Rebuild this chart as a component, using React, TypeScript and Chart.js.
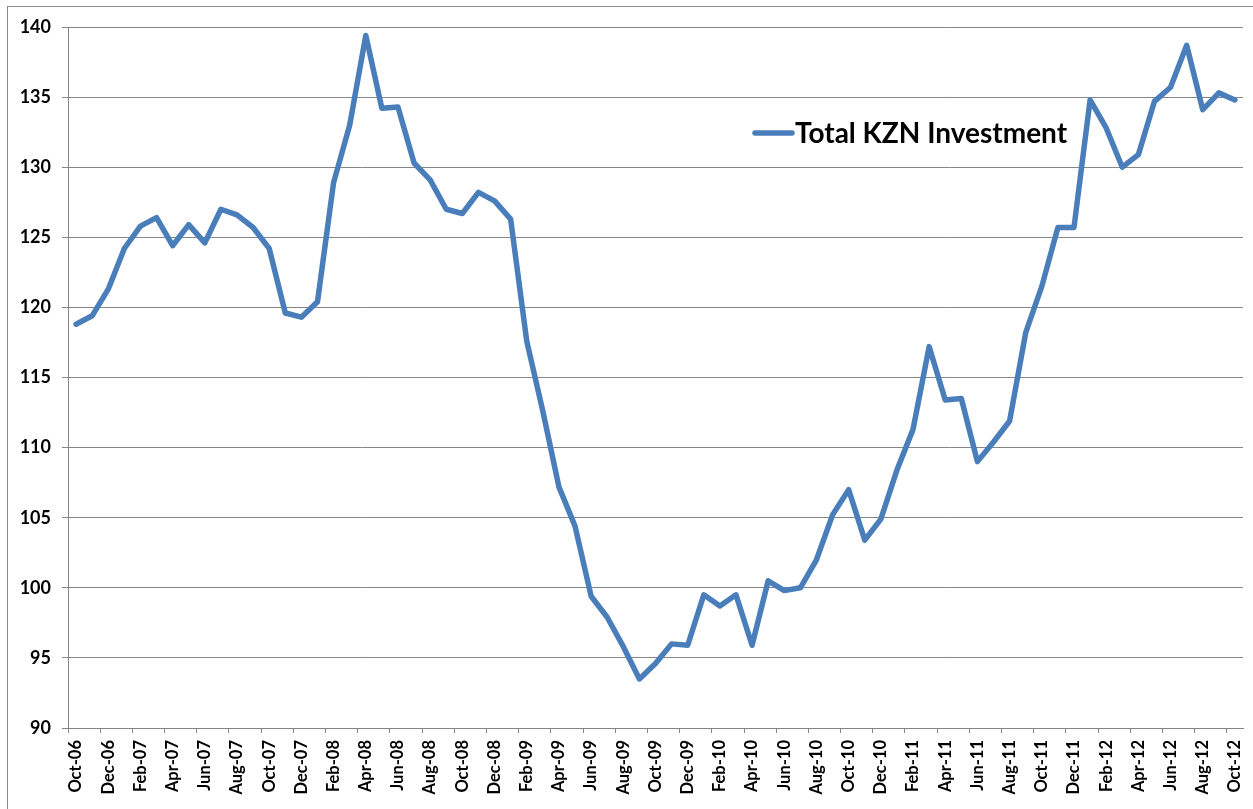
import React, { useEffect, useRef } from "react";
import { Chart, registerables } from "chart.js";

Chart.register(...registerables);

const categories: string[] = [
  "Oct-06", "Nov-06", "Dec-06",
  "Jan-07", "Feb-07", "Mar-07", "Apr-07", "May-07", "Jun-07", "Jul-07", "Aug-07", "Sep-07", "Oct-07", "Nov-07", "Dec-07",
  "Jan-08", "Feb-08", "Mar-08", "Apr-08", "May-08", "Jun-08", "Jul-08", "Aug-08", "Sep-08", "Oct-08", "Nov-08", "Dec-08",
  "Jan-09", "Feb-09", "Mar-09", "Apr-09", "May-09", "Jun-09", "Jul-09", "Aug-09", "Sep-09", "Oct-09", "Nov-09", "Dec-09",
  "Jan-10", "Feb-10", "Mar-10", "Apr-10", "May-10", "Jun-10", "Jul-10", "Aug-10", "Sep-10", "Oct-10", "Nov-10", "Dec-10",
  "Jan-11", "Feb-11", "Mar-11", "Apr-11", "May-11", "Jun-11", "Jul-11", "Aug-11", "Sep-11", "Oct-11", "Nov-11", "Dec-11",
  "Jan-12", "Feb-12", "Mar-12", "Apr-12", "May-12", "Jun-12", "Jul-12", "Aug-12", "Sep-12", "Oct-12",
];

const seriesLabel = "Total KZN Investment";

const investment: number[] = [
  118.8, 119.4, 121.3,
  124.2, 125.8, 126.4, 124.4, 125.9, 124.6, 127.0, 126.6, 125.7, 124.2, 119.6, 119.3,
  120.4, 128.9, 133.0, 139.4, 134.2, 134.3, 130.3, 129.1, 127.0, 126.7, 128.2, 127.6,
  126.3, 117.6, 112.6, 107.2, 104.4, 99.4, 97.9, 95.8, 93.5, 94.6, 96.0, 95.9,
  99.5, 98.7, 99.5, 95.9, 100.5, 99.8, 100.0, 102.0, 105.2, 107.0, 103.4, 104.9,
  108.4, 111.3, 117.2, 113.4, 113.5, 109.0, 110.4, 111.9, 118.2, 121.5, 125.7, 125.7,
  134.8, 132.8, 130.0, 130.9, 134.7, 135.7, 138.7, 134.1, 135.3, 134.8,
];

const yMin = 90;
const yMax = 140;
const yStep = 5;

const LINE_COLOR = "#4a7ebb";
const GRID_COLOR = "#868686";
const FONT = "Lato, 'Open Sans', sans-serif";

const legendPlugin = {
  id: "insideLegend",
  afterDraw(chart: any) {
    const ctx = chart.ctx;
    const ds = chart.data.datasets[0];
    const x0 = 755;
    const y0 = 133;
    ctx.save();
    ctx.strokeStyle = ds.borderColor;
    ctx.lineWidth = 5.5;
    ctx.lineCap = "round";
    ctx.beginPath();
    ctx.moveTo(x0, y0);
    ctx.lineTo(x0 + 37, y0);
    ctx.stroke();
    ctx.fillStyle = "#000";
    ctx.font = `bold 28px ${FONT}`;
    ctx.textBaseline = "middle";
    ctx.textAlign = "left";
    ctx.fillText(ds.label, x0 + 40, y0 + 1);
    ctx.restore();
  },
};

export default function App() {
  const canvasRef = useRef<HTMLCanvasElement | null>(null);

  useEffect(() => {
    if (!canvasRef.current) return;
    const chart = new Chart(canvasRef.current, {
      type: "line",
      data: {
        labels: categories,
        datasets: [
          {
            label: seriesLabel,
            data: investment,
            borderColor: LINE_COLOR,
            backgroundColor: LINE_COLOR,
            borderWidth: 5.5,
            pointRadius: 0,
            pointHoverRadius: 0,
            tension: 0,
            borderJoinStyle: "round",
            borderCapStyle: "round",
            fill: false,
          },
        ],
      },
      options: {
        responsive: false,
        animation: false,
        events: [],
        layout: { padding: { left: 8, right: 10, top: 27, bottom: 0 } },
        plugins: {
          legend: { display: false },
          tooltip: { enabled: false },
          title: { display: false },
        },
        scales: {
          x: {
            type: "category",
            offset: true,
            grid: {
              offset: true,
              drawOnChartArea: false,
              drawTicks: true,
              tickLength: 5,
              color: (c: any) => (c.index % 2 === 0 ? GRID_COLOR : "rgba(0,0,0,0)"),
              lineWidth: 1,
            },
            border: { display: true, color: GRID_COLOR, width: 1 },
            ticks: {
              autoSkip: false,
              maxRotation: 90,
              minRotation: 90,
              padding: 7,
              color: "#000",
              font: { family: FONT, size: 16.5, weight: "bold" },
              callback: (_v: any, i: number) => (i % 2 === 0 ? categories[i] : ""),
            },
            afterFit: (scale: any) => {
              scale.height = 81;
              scale.paddingLeft = 0;
              scale.paddingRight = 0;
            },
          },
          y: {
            min: yMin,
            max: yMax,
            grid: {
              color: GRID_COLOR,
              lineWidth: 1,
              drawTicks: true,
              tickLength: 6,
            },
            border: { display: true, color: GRID_COLOR, width: 1 },
            ticks: {
              stepSize: yStep,
              padding: 11,
              color: "#000",
              font: { family: FONT, size: 18, weight: "bold" },
            },
            afterFit: (scale: any) => {
              scale.width = 60;
              scale.paddingTop = 0;
              scale.paddingBottom = 0;
            },
          },
        },
      },
      plugins: [legendPlugin],
    } as any);
    return () => chart.destroy();
  }, []);

  return (
    <div
      style={{
        position: "fixed",
        left: 0,
        top: 0,
        width: 1253,
        height: 809,
        overflow: "hidden",
        background: "#fff",
      }}
    >
      <div
        style={{
          position: "absolute",
          left: 7,
          top: 6,
          width: 1400,
          height: 1000,
          border: "1px solid #898989",
        }}
      />
      <canvas
        ref={canvasRef}
        width={1253}
        height={809}
        style={{ position: "absolute", left: 0, top: 0, width: 1253, height: 809 }}
      />
    </div>
  );
}
